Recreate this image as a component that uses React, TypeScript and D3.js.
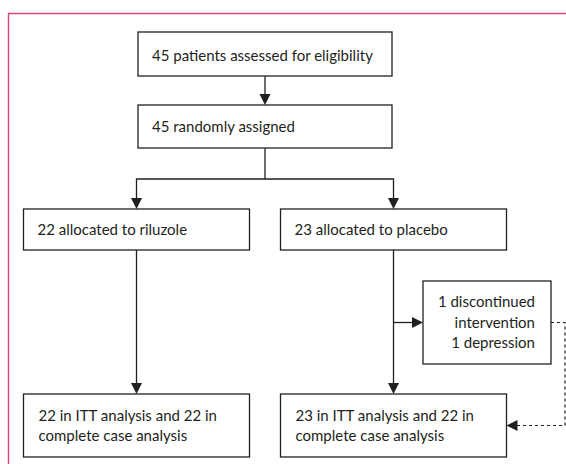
import React from "react";
import * as d3 from "d3";

// flow content
const screeningLabels = ["45 patients assessed for eligibility", "45 randomly assigned"];
const arms = ["riluzole", "placebo"];
const allocationLabels = ["22 allocated to riluzole", "23 allocated to placebo"];
const analysisLabels = [
  ["22 in ITT analysis and 22 in", "complete case analysis"],
  ["23 in ITT analysis and 22 in", "complete case analysis"],
];
const exclusionLabels = ["1 discontinued", "intervention", "1 depression"];

const W = 566;
const H = 464;
const INK = "#231f20";
const FRAME = "#d6466d";
const FONT = "Lato, 'Open Sans', sans-serif";
const FS = 15;

const col = d3.scalePoint<string>().domain(arms).range([136.5, 393.5]);
const mid = (col("riluzole")! + col("placebo")!) / 2;
const halfArm = 113;

// rows: top/bottom of each tier
const row = {
  screen: [32, 76],
  random: [105, 148],
  split: 179,
  alloc: [209, 250],
  excl: [281, 364],
  analysis: [394, 457],
};
const exclX = [423, 551];
const dashX = 565;

function Arrow({ x, y, dir }: { x: number; y: number; dir: "down" | "right" | "left" }) {
  const l = 11, w = 5.5;
  let pts: [number, number][];
  if (dir === "down") pts = [[x, y], [x - w, y - l], [x + w, y - l]];
  else if (dir === "right") pts = [[x, y], [x - l, y - w], [x - l, y + w]];
  else pts = [[x, y], [x + l, y - w], [x + l, y + w]];
  return <polygon points={pts.map(p => p.join(",")).join(" ")} fill={INK} />;
}

function Box({ x0, x1, y0, y1, lines, anchor = "start", pad = 14, shift = 0 }: {
  x0: number; x1: number; y0: number; y1: number; lines: string[]; anchor?: "start" | "end"; pad?: number; shift?: number;
}) {
  const lh = 20.5;
  const cy = (y0 + y1) / 2 + shift;
  const tx = anchor === "start" ? x0 + pad : x1 - pad;
  return (
    <g>
      <rect x={x0} y={y0} width={x1 - x0} height={y1 - y0} fill="#fff" stroke={INK} strokeWidth={1.3} />
      {lines.map((t, i) => (
        <text key={i} x={tx} y={cy + (i - (lines.length - 1) / 2) * lh} dy="0.35em"
          textAnchor={anchor} fontFamily={FONT} fontSize={FS} fill={INK}>{t}</text>
      ))}
    </g>
  );
}

export default function App() {
  const line = d3.line();
  const cl = col("riluzole")!, cp = col("placebo")!;
  const branchY = (row.excl[0] + row.excl[1]) / 2;
  const dashY = (row.analysis[0] + row.analysis[1]) / 2;
  return (
    <svg width={W} height={H} style={{ position: "absolute", left: 0, top: 0, background: "#fff" }}>
      {/* frame */}
      <path d={line([[8.5, H], [8.5, 13.5], [W, 13.5]])!} fill="none" stroke={FRAME} strokeWidth={1.4} />

      {/* connectors */}
      <g stroke={INK} strokeWidth={1.3} fill="none">
        <path d={line([[mid, row.screen[1]], [mid, row.random[0] - 8]])!} />
        <path d={line([[mid, row.random[1]], [mid, row.split]])!} />
        <path d={line([[cl, row.alloc[0] - 8], [cl, row.split], [cp, row.split], [cp, row.alloc[0] - 8]])!} />
        <path d={line([[cl, row.alloc[1]], [cl, row.analysis[0] - 8]])!} />
        <path d={line([[cp, row.alloc[1]], [cp, row.analysis[0] - 8]])!} />
        <path d={line([[cp, branchY], [exclX[0] - 8, branchY]])!} />
        <path d={line([[exclX[1], branchY], [dashX, branchY], [dashX, dashY], [cp + halfArm + 9, dashY]])!}
          strokeDasharray="3,3" strokeWidth={1.2} />
      </g>
      <Arrow x={mid} y={row.random[0]} dir="down" />
      <Arrow x={cl} y={row.alloc[0]} dir="down" />
      <Arrow x={cp} y={row.alloc[0]} dir="down" />
      <Arrow x={cl} y={row.analysis[0]} dir="down" />
      <Arrow x={cp} y={row.analysis[0]} dir="down" />
      <Arrow x={exclX[0]} y={branchY} dir="right" />
      <Arrow x={cp + halfArm} y={dashY} dir="left" />

      {/* boxes */}
      <Box x0={mid - 127} x1={mid + 127} y0={row.screen[0]} y1={row.screen[1]} lines={[screeningLabels[0]]} shift={2} />
      <Box x0={mid - 127} x1={mid + 127} y0={row.random[0]} y1={row.random[1]} lines={[screeningLabels[1]]} />
      {arms.map((a, i) => (
        <Box key={a} x0={col(a)! - halfArm} x1={col(a)! + halfArm} y0={row.alloc[0]} y1={row.alloc[1]} lines={[allocationLabels[i]]} />
      ))}
      {arms.map((a, i) => (
        <Box key={a + "-an"} x0={col(a)! - halfArm} x1={col(a)! + halfArm} y0={row.analysis[0]} y1={row.analysis[1]}
          lines={analysisLabels[i]} pad={15} />
      ))}
      <Box x0={exclX[0]} x1={exclX[1]} y0={row.excl[0]} y1={row.excl[1]} lines={exclusionLabels} anchor="end" pad={16} />
    </svg>
  );
}
